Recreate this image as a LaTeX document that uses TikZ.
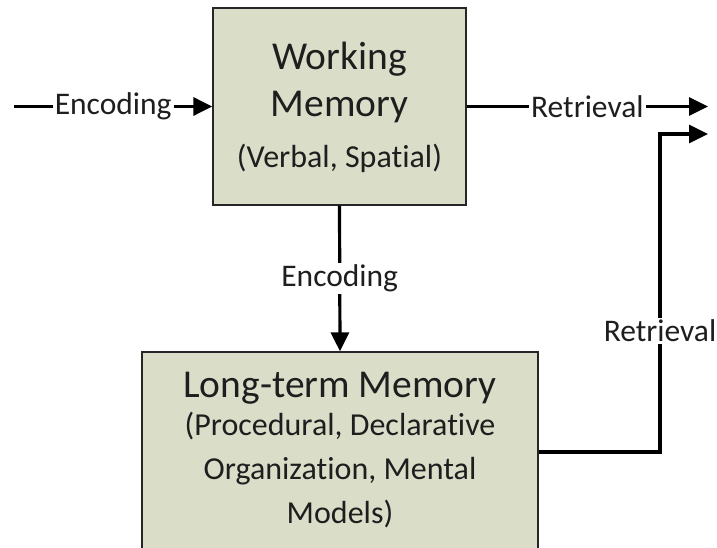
\documentclass[tikz,border=0pt]{standalone}
\usepackage{fontspec}
\setmainfont{Carlito}[Ligatures=NoCommon]
\usepackage{xcolor}
\usepackage{tikz}
\usetikzlibrary{arrows.meta, positioning}
\definecolor{boxfill}{RGB}{218,222,200}
\definecolor{inkgray}{RGB}{30,30,30}

\begin{document}
\begin{tikzpicture}[x=1pt, y=-1pt,
	memory/.style={draw=black!85, line width=1.3pt, fill=boxfill, inner sep=0pt},
	flow/.style={line width=3.2pt, -{Triangle[length=19pt, width=18pt]}},
	lbl/.style={fill=white, inner sep=2pt, text=inkgray, font=\fontsize{31.5}{36}\selectfont},
	big/.style={text=inkgray, align=center, anchor=base, font=\fontsize{39.5}{47}\selectfont},
	small/.style={text=inkgray, align=center, anchor=base, font=\fontsize{32}{44}\selectfont}]
			\useasboundingbox (0,0) rectangle (717,548);
			\clip (0,0) rectangle (717,548);
			%% the two stores
			\node[memory, minimum width=253pt, minimum height=197pt] (wm) at (339.5,106.5) {};
			\node[memory, minimum width=396pt, minimum height=200pt] (ltm) at (340,452) {};
			\node[big] (wmname) at (339.5,117) {Working\\Memory};
			\node[small] (wmkind) at (339.5,168) {(Verbal, Spatial)};
			\node[big] (ltmname) at (340,397) {Long-term Memory};
			\node[small] (ltmkind) at (340,523) {(Procedural, Declarative\\Organization, Mental\\Models)};
			%% free ends
			\coordinate (encin) at (14,106.5);
			\coordinate (retout) at (708,106.5);
			\coordinate (bend) at (660,134);
			\coordinate (retout2) at (708,134);
			%% connectors
			\draw[flow] (encin) -- node[lbl] {Encoding} (wm.west);
			\draw[flow] (wm.east) -- node[lbl] {Retrieval} (retout);
			\draw[flow] (wm.south) -- node[lbl] {Encoding} (ltm.north);
			\draw[flow] (ltm.east) -| node[lbl, pos=0.69] {Retrieval} (bend) -- (retout2);
			\end{tikzpicture}
\end{document}
